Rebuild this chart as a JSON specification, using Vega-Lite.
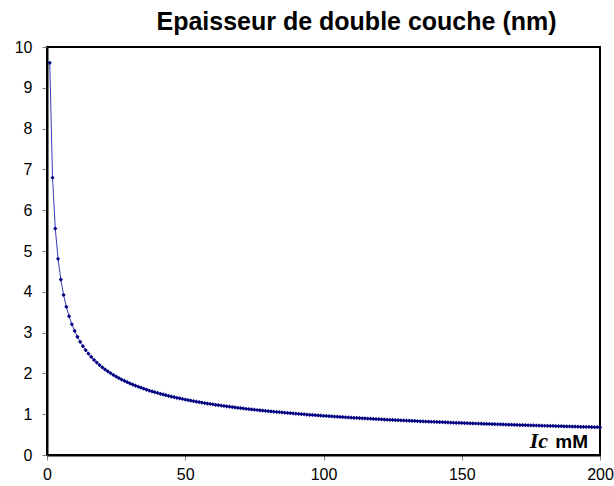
{
  "$schema": "https://vega.github.io/schema/vega-lite/v6.json",
  "autosize": "none",
  "width": 553,
  "height": 408,
  "padding": {"left": 47, "top": 47, "right": 14, "bottom": 31},
  "background": "white",
  "config": {
    "font": "Liberation Sans",
    "view": {"stroke": "black", "strokeWidth": 2},
    "axis": {"grid": false, "labelFont": "Liberation Sans", "labelFontSize": 16, "labelColor": "black", "tickColor": "#808080", "domainColor": "black", "domainWidth": 2, "tickSize": 5, "title": null}
  },
  "title": {"text": "Epaisseur de double couche (nm)", "font": "Liberation Sans", "fontSize": 25, "fontWeight": "bold", "color": "black", "anchor": "middle", "dx": 33, "offset": 4},
  "layer": [
    {
      "data": {"name": "curve"},
      "mark": {"type": "line", "color": "#3a3ab8", "strokeWidth": 1},
      "encoding": {
        "x": {"field": "I", "type": "quantitative", "scale": {"domain": [0, 200], "nice": false}, "axis": {"values": [0, 50, 100, 150, 200], "labelPadding": 6, "labelFlush": false}},
        "y": {"field": "d", "type": "quantitative", "scale": {"domain": [0, 10], "nice": false}, "axis": {"values": [0,1,2,3,4,5,6,7,8,9,10], "labelPadding": 10}}
      }
    },
    {
      "data": {"name": "curve"},
      "mark": {"type": "point", "shape": "diamond", "filled": true, "color": "#000080", "size": 18, "opacity": 1},
      "encoding": {
        "x": {"field": "I", "type": "quantitative"},
        "y": {"field": "d", "type": "quantitative"}
      }
    },
    {
      "data": {"values": [{"I": 200, "d": 0, "t": "mM"}]},
      "mark": {"type": "text", "align": "right", "baseline": "alphabetic", "font": "Liberation Sans", "fontWeight": "bold", "fontSize": 19, "color": "black", "dx": -12, "dy": -7},
      "encoding": {
        "x": {"field": "I", "type": "quantitative"},
        "y": {"field": "d", "type": "quantitative"},
        "text": {"field": "t"}
      }
    },
    {
      "data": {"values": [{"I": 200, "d": 0, "t": "Ic"}]},
      "mark": {"type": "text", "align": "right", "baseline": "alphabetic", "font": "Liberation Serif", "fontStyle": "italic", "fontWeight": "bold", "fontSize": 22, "color": "black", "dx": -52, "dy": -7},
      "encoding": {
        "x": {"field": "I", "type": "quantitative"},
        "y": {"field": "d", "type": "quantitative"},
        "text": {"field": "t"}
      }
    }
  ],
  "datasets": {
    "curve": [
      {"I":1,"d":9.613},{"I":2,"d":6.797},{"I":3,"d":5.550},{"I":4,"d":4.807},{"I":5,"d":4.299},{"I":6,"d":3.924},{"I":7,"d":3.633},{"I":8,"d":3.399},{"I":9,"d":3.204},{"I":10,"d":3.040},
      {"I":11,"d":2.898},{"I":12,"d":2.775},{"I":13,"d":2.666},{"I":14,"d":2.569},{"I":15,"d":2.482},{"I":16,"d":2.403},{"I":17,"d":2.331},{"I":18,"d":2.266},{"I":19,"d":2.205},{"I":20,"d":2.150},
      {"I":21,"d":2.098},{"I":22,"d":2.050},{"I":23,"d":2.004},{"I":24,"d":1.962},{"I":25,"d":1.923},{"I":26,"d":1.885},{"I":27,"d":1.850},{"I":28,"d":1.817},{"I":29,"d":1.785},{"I":30,"d":1.755},
      {"I":31,"d":1.727},{"I":32,"d":1.699},{"I":33,"d":1.673},{"I":34,"d":1.649},{"I":35,"d":1.625},{"I":36,"d":1.602},{"I":37,"d":1.580},{"I":38,"d":1.559},{"I":39,"d":1.539},{"I":40,"d":1.520},
      {"I":41,"d":1.501},{"I":42,"d":1.483},{"I":43,"d":1.466},{"I":44,"d":1.449},{"I":45,"d":1.433},{"I":46,"d":1.417},{"I":47,"d":1.402},{"I":48,"d":1.388},{"I":49,"d":1.373},{"I":50,"d":1.359},
      {"I":51,"d":1.346},{"I":52,"d":1.333},{"I":53,"d":1.320},{"I":54,"d":1.308},{"I":55,"d":1.296},{"I":56,"d":1.285},{"I":57,"d":1.273},{"I":58,"d":1.262},{"I":59,"d":1.252},{"I":60,"d":1.241},
      {"I":61,"d":1.231},{"I":62,"d":1.221},{"I":63,"d":1.211},{"I":64,"d":1.202},{"I":65,"d":1.192},{"I":66,"d":1.183},{"I":67,"d":1.174},{"I":68,"d":1.166},{"I":69,"d":1.157},{"I":70,"d":1.149},
      {"I":71,"d":1.141},{"I":72,"d":1.133},{"I":73,"d":1.125},{"I":74,"d":1.117},{"I":75,"d":1.110},{"I":76,"d":1.103},{"I":77,"d":1.096},{"I":78,"d":1.088},{"I":79,"d":1.082},{"I":80,"d":1.075},
      {"I":81,"d":1.068},{"I":82,"d":1.062},{"I":83,"d":1.055},{"I":84,"d":1.049},{"I":85,"d":1.043},{"I":86,"d":1.037},{"I":87,"d":1.031},{"I":88,"d":1.025},{"I":89,"d":1.019},{"I":90,"d":1.013},
      {"I":91,"d":1.008},{"I":92,"d":1.002},{"I":93,"d":0.997},{"I":94,"d":0.992},{"I":95,"d":0.986},{"I":96,"d":0.981},{"I":97,"d":0.976},{"I":98,"d":0.971},{"I":99,"d":0.966},{"I":100,"d":0.961},
      {"I":101,"d":0.957},{"I":102,"d":0.952},{"I":103,"d":0.947},{"I":104,"d":0.943},{"I":105,"d":0.938},{"I":106,"d":0.934},{"I":107,"d":0.929},{"I":108,"d":0.925},{"I":109,"d":0.921},{"I":110,"d":0.917},
      {"I":111,"d":0.912},{"I":112,"d":0.908},{"I":113,"d":0.904},{"I":114,"d":0.900},{"I":115,"d":0.896},{"I":116,"d":0.893},{"I":117,"d":0.889},{"I":118,"d":0.885},{"I":119,"d":0.881},{"I":120,"d":0.878},
      {"I":121,"d":0.874},{"I":122,"d":0.870},{"I":123,"d":0.867},{"I":124,"d":0.863},{"I":125,"d":0.860},{"I":126,"d":0.856},{"I":127,"d":0.853},{"I":128,"d":0.850},{"I":129,"d":0.846},{"I":130,"d":0.843},
      {"I":131,"d":0.840},{"I":132,"d":0.837},{"I":133,"d":0.834},{"I":134,"d":0.830},{"I":135,"d":0.827},{"I":136,"d":0.824},{"I":137,"d":0.821},{"I":138,"d":0.818},{"I":139,"d":0.815},{"I":140,"d":0.812},
      {"I":141,"d":0.810},{"I":142,"d":0.807},{"I":143,"d":0.804},{"I":144,"d":0.801},{"I":145,"d":0.798},{"I":146,"d":0.796},{"I":147,"d":0.793},{"I":148,"d":0.790},{"I":149,"d":0.788},{"I":150,"d":0.785},
      {"I":151,"d":0.782},{"I":152,"d":0.780},{"I":153,"d":0.777},{"I":154,"d":0.775},{"I":155,"d":0.772},{"I":156,"d":0.770},{"I":157,"d":0.767},{"I":158,"d":0.765},{"I":159,"d":0.762},{"I":160,"d":0.760},
      {"I":161,"d":0.758},{"I":162,"d":0.755},{"I":163,"d":0.753},{"I":164,"d":0.751},{"I":165,"d":0.748},{"I":166,"d":0.746},{"I":167,"d":0.744},{"I":168,"d":0.742},{"I":169,"d":0.739},{"I":170,"d":0.737},
      {"I":171,"d":0.735},{"I":172,"d":0.733},{"I":173,"d":0.731},{"I":174,"d":0.729},{"I":175,"d":0.727},{"I":176,"d":0.725},{"I":177,"d":0.723},{"I":178,"d":0.721},{"I":179,"d":0.719},{"I":180,"d":0.717},
      {"I":181,"d":0.715},{"I":182,"d":0.713},{"I":183,"d":0.711},{"I":184,"d":0.709},{"I":185,"d":0.707},{"I":186,"d":0.705},{"I":187,"d":0.703},{"I":188,"d":0.701},{"I":189,"d":0.699},{"I":190,"d":0.697},
      {"I":191,"d":0.696},{"I":192,"d":0.694},{"I":193,"d":0.692},{"I":194,"d":0.690},{"I":195,"d":0.688},{"I":196,"d":0.687},{"I":197,"d":0.685},{"I":198,"d":0.683},{"I":199,"d":0.681},{"I":200,"d":0.680}
    ]
  }
}
